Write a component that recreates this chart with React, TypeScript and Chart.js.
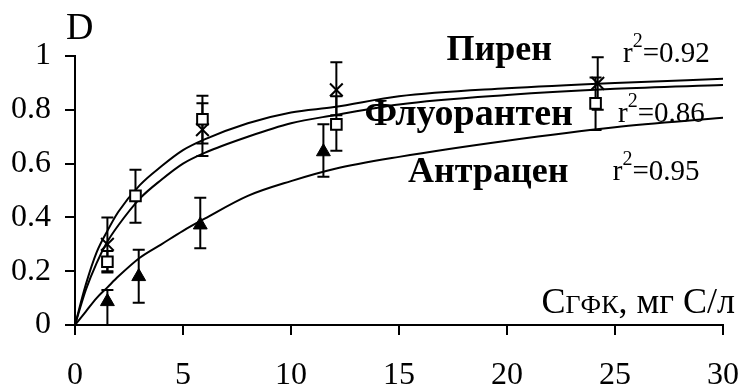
import React, { useEffect, useRef } from 'react';
import { Chart, registerables } from 'chart.js';

Chart.register(...registerables);

const FONT = '"Liberation Serif", "Times New Roman", serif';

// fitted curves
const curveX = [0, 0.5, 1, 1.5, 2, 3, 4, 5, 6, 8, 10, 12, 15, 20, 25, 30];
const pyreneFit = [0, 0.15, 0.27, 0.35, 0.42, 0.52, 0.59, 0.65, 0.69, 0.75, 0.79, 0.81, 0.85, 0.88, 0.9, 0.915];
const fluorFit = [0, 0.13, 0.23, 0.31, 0.37, 0.47, 0.54, 0.6, 0.64, 0.7, 0.75, 0.78, 0.82, 0.855, 0.878, 0.892];
const anthrFit = [0, 0.05, 0.1, 0.14, 0.18, 0.25, 0.3, 0.35, 0.395, 0.48, 0.535, 0.58, 0.625, 0.685, 0.735, 0.77];

// measured points with error bars
const pyreneX = [1.5, 5.9, 12.1, 24.2];
const pyreneY = [0.3, 0.726, 0.874, 0.898];
const pyreneLow = [0.2, 0.628, 0.78, 0.8];
const pyreneHigh = [0.4, 0.824, 0.977, 0.995];

const fluorX = [1.5, 2.8, 5.9, 12.1, 24.1];
const fluorY = [0.235, 0.48, 0.765, 0.746, 0.824];
const fluorLow = [0.195, 0.38, 0.675, 0.648, 0.725];
const fluorHigh = [0.275, 0.577, 0.852, 0.85, 0.92];

const anthrX = [1.5, 2.95, 5.8, 11.5];
const anthrY = [0.087, 0.18, 0.372, 0.644];
const anthrLow = [0.0, 0.083, 0.285, 0.551];
const anthrHigh = [0.13, 0.28, 0.473, 0.746];

const xTicks = [0, 5, 10, 15, 20, 25, 30];
const yTicks = [0, 0.2, 0.4, 0.6, 0.8, 1];

const seriesNames = ['Пирен', 'Флуорантен', 'Антрацен'];
const r2Labels = ['0.92', '0.86', '0.95'];
// label anchors in data units: [x, y]
const nameAnchors = [[17.2, 0.985], [13.4, 0.743], [15.42, 0.532]];
const r2Anchors = [[25.37, 0.978], [25.14, 0.755], [24.9, 0.539]];

const zip = (xs: number[], ys: number[]) => xs.map((x, i) => ({ x, y: ys[i] }));

const errorBarsPlugin = {
  id: 'errorBars',
  beforeDatasetsDraw(chart: any) {
    const { ctx, scales } = chart;
    const x = scales.x, y = scales.y;
    const sets = [
      [pyreneX, pyreneLow, pyreneHigh],
      [fluorX, fluorLow, fluorHigh],
      [anthrX, anthrLow, anthrHigh],
    ];
    ctx.save();
    ctx.strokeStyle = '#000';
    ctx.lineWidth = 2;
    for (const [xs, lo, hi] of sets) {
      xs.forEach((v: number, i: number) => {
        const px = x.getPixelForValue(v);
        const pl = y.getPixelForValue(lo[i]);
        const ph = y.getPixelForValue(hi[i]);
        ctx.beginPath();
        ctx.moveTo(px, pl); ctx.lineTo(px, ph);
        ctx.moveTo(px - 6, pl); ctx.lineTo(px + 6, pl);
        ctx.moveTo(px - 6, ph); ctx.lineTo(px + 6, ph);
        ctx.stroke();
      });
    }
    ctx.restore();
  },
};

const textPlugin = {
  id: 'texts',
  afterDraw(chart: any) {
    const { ctx, scales, chartArea } = chart;
    const x = scales.x, y = scales.y;
    ctx.save();
    ctx.fillStyle = '#000';
    ctx.textBaseline = 'alphabetic';
    ctx.textAlign = 'left';
    // D
    ctx.font = `38px ${FONT}`;
    ctx.fillText('D', chartArea.left - 9, chartArea.top - 17);
    // series names
    seriesNames.forEach((n, i) => {
      ctx.font = `bold ${i === 1 ? 38 : 36}px ${FONT}`;
      ctx.fillText(n, x.getPixelForValue(nameAnchors[i][0]), y.getPixelForValue(nameAnchors[i][1]));
    });
    // r2
    r2Labels.forEach((v, i) => {
      let px = x.getPixelForValue(r2Anchors[i][0]);
      const py = y.getPixelForValue(r2Anchors[i][1]);
      ctx.font = `29px ${FONT}`;
      ctx.fillText('r', px, py);
      px += ctx.measureText('r').width;
      ctx.font = `20px ${FONT}`;
      ctx.fillText('2', px, py - 15);
      px += ctx.measureText('2').width;
      ctx.font = `29px ${FONT}`;
      ctx.fillText('=' + v, px, py);
    });
    // axis title
    let tx = x.getPixelForValue(21.6);
    const ty = y.getPixelForValue(0.045);
    ctx.font = `36px ${FONT}`;
    ctx.fillText('С', tx, ty);
    tx += ctx.measureText('С').width;
    ctx.font = `26px ${FONT}`;
    ctx.fillText('ГФК', tx, ty);
    tx += ctx.measureText('ГФК').width;
    ctx.font = `36px ${FONT}`;
    ctx.fillText(', мг С/л', tx, ty);
    ctx.restore();
  },
};

export default function App() {
  const ref = useRef<HTMLCanvasElement>(null);
  useEffect(() => {
    document.body.style.margin = '0';
    const curve = (data: number[]) => ({
      type: 'line' as const,
      data: zip(curveX, data),
      borderColor: '#000',
      borderWidth: 2,
      pointRadius: 0,
      fill: false,
      cubicInterpolationMode: 'monotone' as const,
      order: 3,
    });
    const chart = new Chart(ref.current!, {
      type: 'scatter',
      data: {
        datasets: [
          curve(pyreneFit) as any,
          curve(fluorFit) as any,
          curve(anthrFit) as any,
          {
            label: seriesNames[0],
            data: zip(pyreneX, pyreneY),
            pointStyle: 'crossRot',
            pointRadius: 9,
            borderColor: '#000',
            backgroundColor: '#000',
            pointBorderWidth: 2,
            order: 1,
          },
          {
            label: seriesNames[1],
            data: zip(fluorX, fluorY),
            pointStyle: 'rect',
            pointRadius: 7.5,
            borderColor: '#000',
            backgroundColor: '#fff',
            pointBorderWidth: 2,
            order: 0,
          },
          {
            label: seriesNames[2],
            data: zip(anthrX, anthrY),
            pointStyle: 'triangle',
            pointRadius: 8,
            borderColor: '#000',
            backgroundColor: '#000',
            pointBorderWidth: 1,
            order: 0,
          },
        ],
      },
      options: {
        responsive: false,
        animation: false,
        devicePixelRatio: 1,
        layout: { padding: { left: 0, top: 56, right: 18, bottom: 0 } },
        plugins: { legend: { display: false }, tooltip: { enabled: false } },
        scales: {
          x: {
            type: 'linear',
            min: 0,
            max: 30,
            afterFit: (s: any) => { s.height = 63; s.paddingLeft = 0; s.paddingRight = 0; },
            afterBuildTicks: (s: any) => { s.ticks = xTicks.map((v) => ({ value: v })); },
            ticks: { color: '#000', font: { family: FONT, size: 32 }, padding: 21, maxRotation: 0 },
            grid: { drawOnChartArea: false, drawTicks: true, tickLength: 10, color: '#000', lineWidth: 2 },
            border: { display: true, color: '#000', width: 2 },
          },
          y: {
            type: 'linear',
            min: 0,
            max: 1,
            afterFit: (s: any) => { s.width = 75; s.paddingTop = 0; s.paddingBottom = 0; },
            afterBuildTicks: (s: any) => { s.ticks = yTicks.map((v) => ({ value: v })); },
            ticks: { color: '#000', font: { family: FONT, size: 32 }, padding: 14, callback: (v: any) => String(v) },
            grid: { drawOnChartArea: false, drawTicks: true, tickLength: 10, color: '#000', lineWidth: 2 },
            border: { display: true, color: '#000', width: 2 },
          },
        },
      },
      plugins: [errorBarsPlugin, textPlugin],
    });
    return () => chart.destroy();
  }, []);
  return (
    <div style={{ position: 'fixed', left: 0, top: 0, width: 741, height: 388, background: '#fff' }}>
      <canvas ref={ref} width={741} height={388} style={{ width: 741, height: 388, display: 'block' }} />
    </div>
  );
}
